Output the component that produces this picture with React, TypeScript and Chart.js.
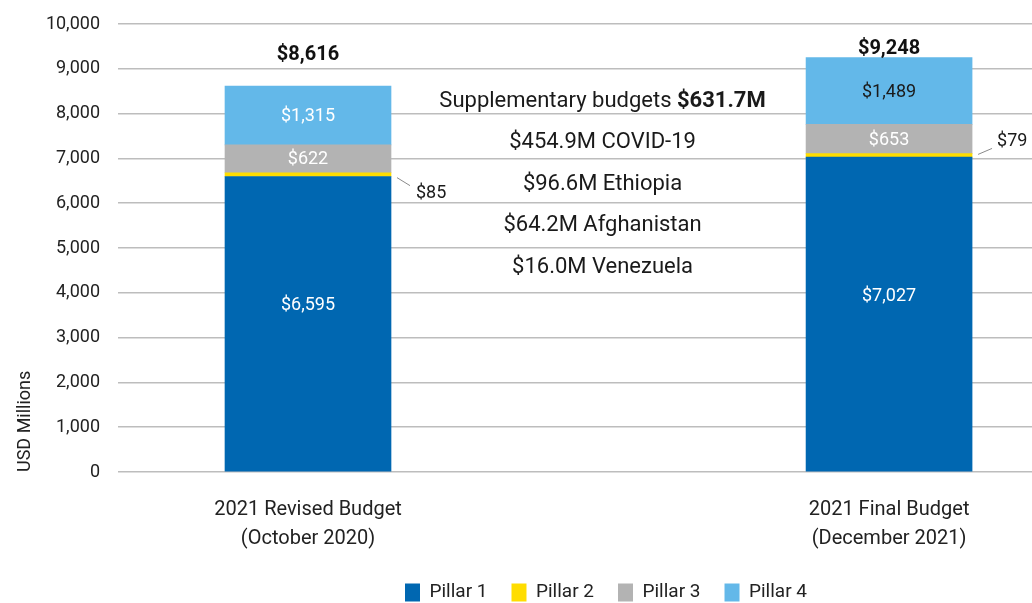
import React, { useEffect, useRef } from 'react';
import { Chart, registerables } from 'chart.js';

Chart.register(...registerables);

const categories: string[][] = [
  ['2021 Revised Budget', '(October 2020)'],
  ['2021 Final Budget', '(December 2021)'],
];
const seriesNames = ['Pillar 1', 'Pillar 2', 'Pillar 3', 'Pillar 4'];
const pillar1 = [6595, 7027];
const pillar2 = [85, 79];
const pillar3 = [622, 653];
const pillar4 = [1315, 1489];
const totals = [8616, 9248];
const yTickValues = [0, 1000, 2000, 3000, 4000, 5000, 6000, 7000, 8000, 9000, 10000];
const supplementaryTitle = 'Supplementary budgets ';
const supplementaryTotal = '$631.7M';
const supplementaryItems = ['$454.9M COVID-19', '$96.6M Ethiopia', '$64.2M Afghanistan', '$16.0M Venezuela'];

const seriesValues = [pillar1, pillar2, pillar3, pillar4];
const colors = ['#0067B1', '#FFDD00', '#B3B3B3', '#63B8E9'];
const FONT = 'Roboto, "Open Sans", sans-serif';

const fmt = (v: number) => '$' + v.toLocaleString('en-US');

const labelPlugin = {
  id: 'valueLabels',
  afterLayout(chart: any) {
    const lg = chart.legend;
    if (lg) {
      lg.left += 90;
      lg.right += 90;
      lg.top += 9;
      lg.bottom += 9;
    }
  },
  afterDatasetsDraw(chart: any) {
    const ctx = chart.ctx as CanvasRenderingContext2D;
    const area = chart.chartArea;
    const xScale = chart.scales.x;
    ctx.save();
    ctx.textAlign = 'center';
    ctx.textBaseline = 'middle';
    const p4Colors = ['#ffffff', '#1a1a1a'];
    const leaders = [
      { x1: 6, y1: 3, x2: 19, y2: 11, tx: 25, ty: 19 },
      { x1: 6, y1: -1, x2: 20, y2: -7, tx: 25, ty: -14 },
    ];
    chart.data.datasets.forEach((ds: any, di: number) => {
      const meta = chart.getDatasetMeta(di);
      meta.data.forEach((el: any, i: number) => {
        const p = el.getProps(['x', 'y', 'base', 'width'], true);
        const v = seriesValues[di][i];
        const cy = (p.y + p.base) / 2;
        if (di === 1) {
          const right = p.x + p.width / 2;
          const L = leaders[i];
          ctx.strokeStyle = '#8a8a8a';
          ctx.lineWidth = 1;
          ctx.beginPath();
          ctx.moveTo(right + L.x1, cy + L.y1);
          ctx.lineTo(right + L.x2, cy + L.y2);
          ctx.stroke();
          ctx.fillStyle = '#1a1a1a';
          ctx.font = `18px ${FONT}`;
          ctx.textAlign = 'left';
          ctx.fillText(fmt(v), right + L.tx, cy + L.ty);
          ctx.textAlign = 'center';
        } else {
          ctx.font = `18px ${FONT}`;
          ctx.fillStyle = di === 3 ? p4Colors[i] : '#ffffff';
          const off = di === 0 ? -18 : 1;
          ctx.fillText(fmt(v), p.x, cy + off);
        }
      });
    });
    // totals
    const topMeta = chart.getDatasetMeta(3);
    const totalOffsets = [-31, -9];
    ctx.font = `bold 20px ${FONT}`;
    ctx.fillStyle = '#111111';
    topMeta.data.forEach((el: any, i: number) => {
      const p = el.getProps(['x', 'y'], true);
      ctx.fillText(fmt(totals[i]), p.x, p.y + totalOffsets[i]);
    });
    // supplementary annotation
    const cx = xScale.getPixelForValue(0.5) + 4;
    const baseY = area.top + 77;
    const step = 41.5;
    ctx.fillStyle = '#1a1a1a';
    ctx.font = `22px ${FONT}`;
    const w1 = ctx.measureText(supplementaryTitle).width;
    ctx.font = `bold 22px ${FONT}`;
    const w2 = ctx.measureText(supplementaryTotal).width;
    const startX = cx - (w1 + w2) / 2;
    ctx.textAlign = 'left';
    ctx.font = `22px ${FONT}`;
    ctx.fillText(supplementaryTitle, startX, baseY);
    ctx.font = `bold 22px ${FONT}`;
    ctx.fillText(supplementaryTotal, startX + w1, baseY);
    ctx.textAlign = 'center';
    ctx.font = `22px ${FONT}`;
    supplementaryItems.forEach((t, k) => {
      ctx.fillText(t, cx, baseY + step * (k + 1));
    });
    ctx.restore();
  },
};

export default function App() {
  const ref = useRef<HTMLCanvasElement | null>(null);
  useEffect(() => {
    if (!ref.current) return;
    const chart = new Chart(ref.current, {
      type: 'bar',
      data: {
        datasets: seriesNames.map((name, di) => ({
          label: name,
          data: seriesValues[di].map((v, i) => ({ x: i, y: v })),
          backgroundColor: colors[di],
          borderWidth: 0,
          barThickness: 166,
          grouped: false,
        })),
      },
      options: {
        animation: false,
        responsive: true,
        maintainAspectRatio: false,
        layout: { padding: { top: 24, left: 0, right: 0, bottom: 0 } },
        plugins: {
          tooltip: { enabled: false },
          legend: {
            position: 'bottom',
            labels: {
              boxWidth: 15,
              boxHeight: 18,
              padding: 24,
              color: '#222222',
              font: { family: FONT, size: 19 },
            },
          },
        },
        scales: {
          x: {
            type: 'linear',
            stacked: true,
            offset: false,
            min: -0.327,
            max: 1.246,
            grid: { display: false, drawTicks: false, offset: false },
            border: { display: false },
            afterBuildTicks: (scale: any) => {
              scale.ticks = categories.map((_, i) => ({ value: i }));
            },
            afterFit: (scale: any) => {
              scale.height = 78;
              scale.paddingLeft = 0;
              scale.paddingRight = 0;
            },
            ticks: {
              maxRotation: 0,
              autoSkip: false,
              padding: 23,
              color: '#222222',
              font: { family: FONT, size: 20, lineHeight: 1.45 },
              callback: (value: any) => categories[Math.round(Number(value))] ?? '',
            },
          },
          y: {
            type: 'linear',
            stacked: true,
            min: 0,
            max: 10000,
            afterBuildTicks: (scale: any) => {
              scale.ticks = yTickValues.map((v) => ({ value: v }));
            },
            afterFit: (scale: any) => {
              scale.width = 118;
              scale.paddingTop = 0;
              scale.paddingBottom = 0;
            },
            grid: { color: '#BDBDBD', lineWidth: 1.5, drawTicks: false },
            border: { display: false },
            ticks: {
              padding: 18,
              color: '#222222',
              font: { family: FONT, size: 18 },
              callback: (value: any) => Number(value).toLocaleString('en-US'),
            },
            title: {
              display: true,
              text: 'USD Millions',
              align: 'start',
              color: '#222222',
              font: { family: FONT, size: 18 },
              padding: { top: 15, bottom: 0 },
            },
          },
        },
      },
      plugins: [labelPlugin],
    } as any);
    return () => chart.destroy();
  }, []);
  return (
    <div style={{ position: 'fixed', left: 0, top: 0, width: 1032, height: 603, background: '#fff' }}>
      <canvas ref={ref} />
    </div>
  );
}
